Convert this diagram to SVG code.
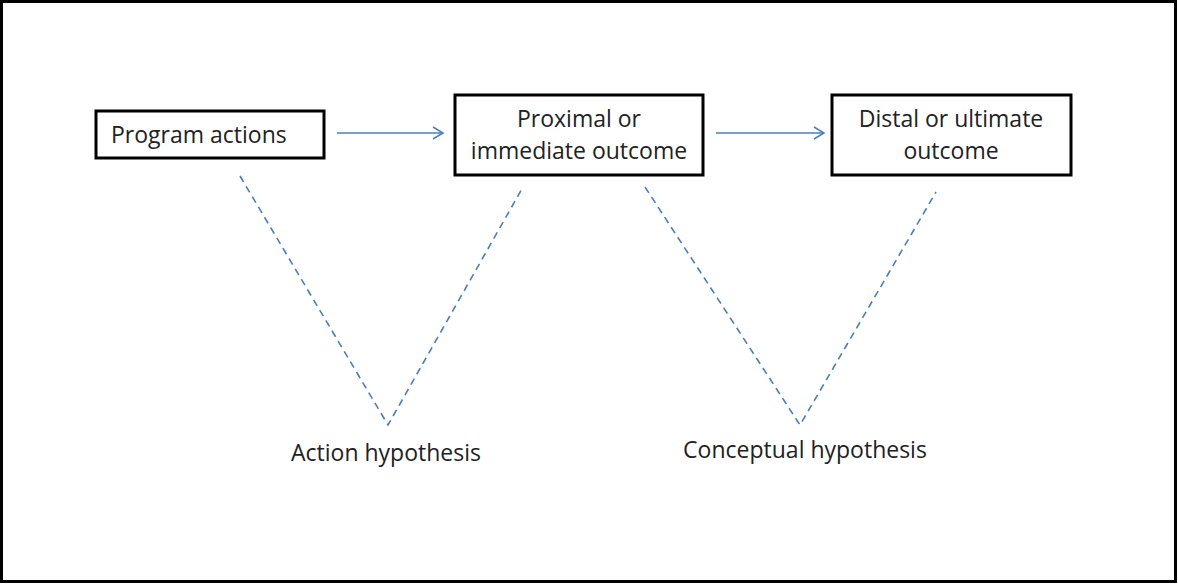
<svg xmlns="http://www.w3.org/2000/svg" width="1178" height="584" viewBox="0 0 1178 584">
<style>
.box{fill:#fff;stroke:#000;stroke-width:3}
.t{font-family:"Open Sans","Liberation Sans",sans-serif;font-size:23px;fill:#222}
.arrow{stroke:#4a7ebb;stroke-width:1.5;fill:none}
.dash{stroke:#4a7ebb;stroke-width:1.6;fill:none;stroke-dasharray:7,5}
</style>
<defs>
<marker id="ah" markerWidth="14" markerHeight="14" refX="12" refY="7" orient="auto" markerUnits="userSpaceOnUse">
<path d="M2,1 L12,7 L2,13" fill="none" stroke="#4a7ebb" stroke-width="1.5"/>
</marker>
</defs>
<rect x="1.5" y="1.5" width="1174" height="580" fill="#fff" stroke="#000" stroke-width="3"/>
<g id="connectors">
<line class="arrow" x1="337" y1="133" x2="443" y2="133" marker-end="url(#ah)"/>
<line class="arrow" x1="716" y1="133" x2="824" y2="133" marker-end="url(#ah)"/>
<polyline class="dash" points="240,176 388,425 523,187"/>
<polyline class="dash" points="645,187 800,425 936,192"/>
</g>
<g id="program-actions">
<rect class="box" x="96" y="111" width="228" height="47"/>
<text class="t" x="111" y="143">Program actions</text>
</g>
<g id="proximal-outcome">
<rect class="box" x="455" y="95" width="248" height="80"/>
<text class="t" x="579" y="127" text-anchor="middle">Proximal or</text>
<text class="t" x="579" y="159" text-anchor="middle">immediate outcome</text>
</g>
<g id="distal-outcome">
<rect class="box" x="832" y="95" width="239" height="80"/>
<text class="t" x="951" y="127" text-anchor="middle">Distal or ultimate</text>
<text class="t" x="951" y="159" text-anchor="middle">outcome</text>
</g>
<g id="action-hypothesis">
<text class="t" x="386" y="461" text-anchor="middle">Action hypothesis</text>
</g>
<g id="conceptual-hypothesis">
<text class="t" x="805" y="458" text-anchor="middle">Conceptual hypothesis</text>
</g>
</svg>
